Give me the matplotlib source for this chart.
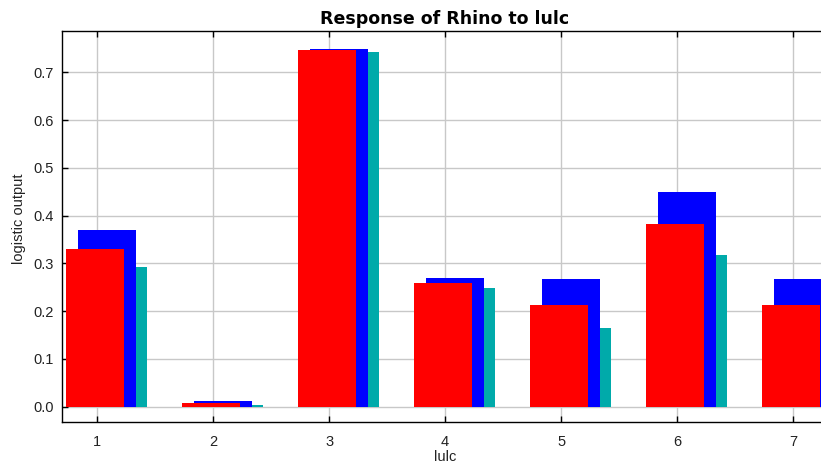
import matplotlib
matplotlib.use("Agg")
import matplotlib.pyplot as plt
import numpy as np

categories = [1, 2, 3, 4, 5, 6, 7]
mean_vals = [0.330, 0.0077, 0.746, 0.259, 0.2135, 0.3825, 0.2135]
upper_vals = [0.370, 0.0126, 0.749, 0.269, 0.2667, 0.450, 0.267]
lower_vals = [0.292, 0.0035, 0.743, 0.249, 0.164, 0.317, 0.164]
y_ticks = [0.0, 0.1, 0.2, 0.3, 0.4, 0.5, 0.6, 0.7]

plt.rcParams['font.family'] = ['Liberation Sans', 'DejaVu Sans']

fig = plt.figure(figsize=(8.21, 4.67), dpi=100)
ax = fig.add_axes([62/821, 45/467, 766/821, 391/467])

x = np.array(categories, dtype=float)
w = 0.5
ax.bar(x - 0.07, lower_vals, width=w, align='edge', color='#00aaaa', zorder=2, linewidth=0)
ax.bar(x - 0.167, upper_vals, width=w, align='edge', color='#0000ff', zorder=3, linewidth=0)
ax.bar(x - 0.265, mean_vals, width=w, align='edge', color='#ff0000', zorder=4, linewidth=0)

ax.set_xlim(0.698, 7.30)
ax.set_ylim(-0.032, 0.7865)
ax.set_xticks(categories)
ax.set_xticklabels([str(c) for c in categories])
ax.set_yticks(y_ticks)
ax.set_yticklabels([f"{v:.1f}" for v in y_ticks])

ax.grid(True, color='#c8c8c8', linewidth=1.0, zorder=0)
ax.set_axisbelow(True)
ax.tick_params(axis='both', direction='in', length=4, width=1, colors='black',
               labelsize=10.5, labelcolor='#222222', top=True, right=False)
ax.tick_params(axis='x', pad=9)
ax.tick_params(axis='y', pad=6)
for s in ax.spines.values():
    s.set_color('black')
    s.set_linewidth(1.0)

ax.set_title("Response of Rhino to lulc", fontsize=12.5, fontweight='bold', pad=5,
             family=['DejaVu Sans'])
ax.set_xlabel("lulc", fontsize=10.5, labelpad=1, color='#222222')
ax.set_ylabel("logistic output", fontsize=10.5, color='#222222')
ax.yaxis.set_label_coords(-0.047, 0.52)

fig.savefig("out.png", dpi=100)
